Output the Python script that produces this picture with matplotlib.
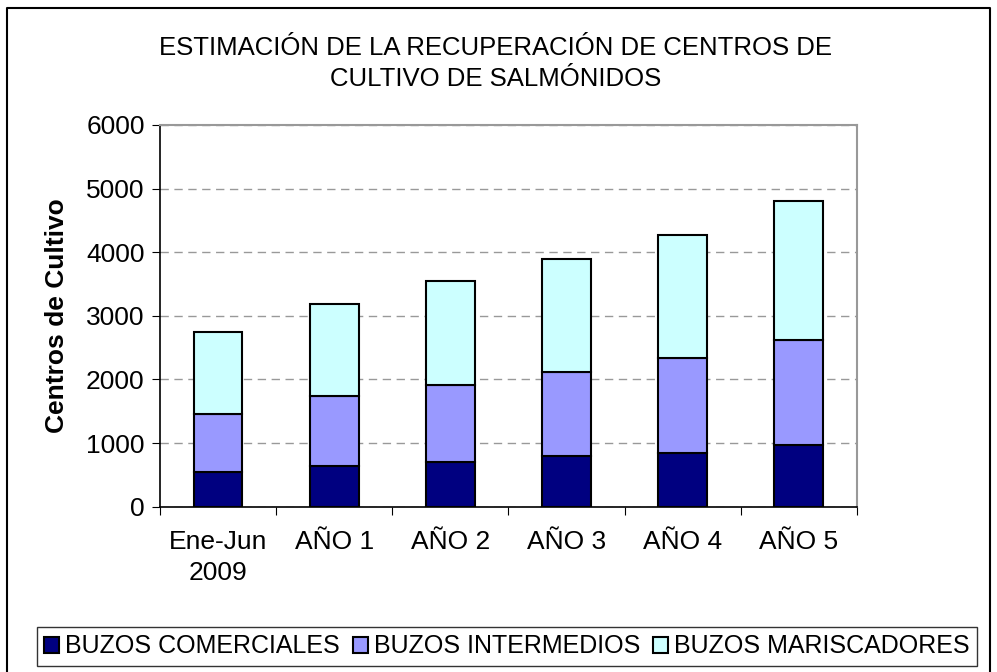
import matplotlib.pyplot as plt
from matplotlib.lines import Line2D
import numpy as np

plt.rcParams['font.family'] = ['Liberation Sans', 'DejaVu Sans']

categorias = ["Ene-Jun\n2009", "AÑO 1", "AÑO 2", "AÑO 3", "AÑO 4", "AÑO 5"]
comerciales = [545, 640, 700, 795, 850, 975]
intermedios = [910, 1095, 1210, 1330, 1495, 1640]
mariscadores = [1295, 1455, 1640, 1775, 1925, 2195]
series = ["BUZOS COMERCIALES", "BUZOS INTERMEDIOS", "BUZOS MARISCADORES"]
colores = ["#000080", "#9999FF", "#CCFFFF"]

fig = plt.figure(figsize=(9.97, 6.72), dpi=100)
ax = fig.add_axes([0.1605, 0.246, 0.699, 0.568])

x = np.arange(len(categorias))
ancho = 0.42
abajo = np.zeros(len(categorias))
for vals, nombre, c in zip([comerciales, intermedios, mariscadores], series, colores):
    ax.bar(x, vals, ancho, bottom=abajo, color=c, edgecolor="black", linewidth=1.5,
           label=nombre, zorder=3)
    abajo += np.array(vals)

ax.set_xlim(-0.5, len(categorias) - 0.5)
ax.set_ylim(0, 6000)
ax.set_yticks(range(0, 6001, 1000))
ax.yaxis.grid(True, linestyle=(0, (6, 4)), color="#999999", linewidth=1, zorder=0)
ax.set_xticks(np.arange(len(categorias) + 1) - 0.5, minor=False)
ax.set_xticklabels([])
ax.set_xticks(x, minor=True)
ax.set_xticklabels(categorias, minor=True, fontsize=19, linespacing=1.33)
ax.tick_params(axis="x", which="minor", length=0, pad=17)
ax.tick_params(axis="x", which="major", length=6, direction="out", color="black")
ax.tick_params(axis="y", labelsize=19, length=6, direction="out", pad=5)

for s in ["top", "right"]:
    ax.spines[s].set_color("#999999")
    ax.spines[s].set_linewidth(1.5)
for s in ["left", "bottom"]:
    ax.spines[s].set_color("black")
    ax.spines[s].set_linewidth(1.2)

ax.set_ylabel("Centros de Cultivo", fontsize=19, fontweight="bold", labelpad=12)

fig.text(0.497, 0.906, "ESTIMACIÓN DE LA RECUPERACIÓN DE CENTROS DE\nCULTIVO DE SALMÓNIDOS",
         ha="center", va="center", fontsize=18.5, linespacing=1.36)

leg = fig.legend(loc="center", bbox_to_anchor=(0.5085, 0.038), ncol=3, fontsize=18,
                 frameon=True, fancybox=False, edgecolor="black", handlelength=0.6,
                 handleheight=0.6, handletextpad=0.25, columnspacing=0.5,
                 borderpad=0.3)
leg.get_frame().set_linewidth(1.0)

# borde exterior del grafico (abajo queda fuera de la imagen)
borde_x = [0.007, 0.007, 0.993, 0.993]
borde_y = [-0.1, 0.988, 0.988, -0.1]
fig.add_artist(Line2D(borde_x, borde_y, transform=fig.transFigure, color="black", linewidth=1.5))

fig.savefig("out.png", dpi=100)
